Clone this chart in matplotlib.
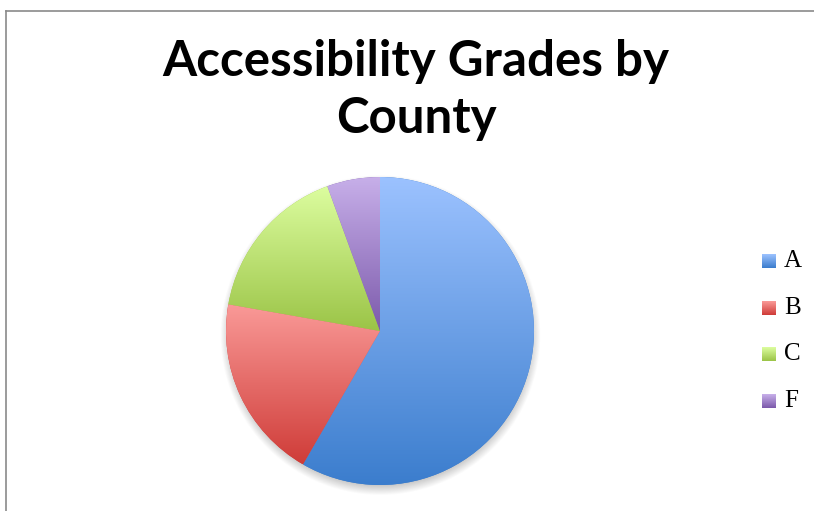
import numpy as np
import matplotlib
matplotlib.use("Agg")
import matplotlib.pyplot as plt
from matplotlib.lines import Line2D

# data
grades = ["A", "B", "C", "F"]
counts = [21, 7, 6, 2]
top_colors = ["#9cc2ff", "#fa9a98", "#dcfd9f", "#c7afe9"]
bottom_colors = ["#3b7dcd", "#cf3c38", "#9bc447", "#7c5aab"]

W, H = 814, 511
fig = plt.figure(figsize=(W / 100, H / 100), dpi=100)


def hex2rgb(h):
    return np.array(matplotlib.colors.to_rgb(h))


def vgrad(c_top, c_bot, n=256):
    t = np.linspace(0, 1, n)[:, None, None]
    return (1 - t) * hex2rgb(c_top) + t * hex2rgb(c_bot)


# pie axes: center (380, 331) px, radius 154 px
cx, cy, r = 380, 331, 154
pad = 1.15
ax = fig.add_axes([(cx - r * pad) / W, (H - cy - r * pad) / H,
                   2 * r * pad / W, 2 * r * pad / H])
ax.set_xlim(-pad, pad)
ax.set_ylim(-pad, pad)
ax.axis("off")

# soft shadow under the pie
g = np.linspace(-pad, pad, 400)
X, Y = np.meshgrid(g, g)
d = np.hypot(X, Y + 0.03)
alpha = np.clip((1.04 - d) / 0.07, 0, 1) * 0.35
shadow = np.zeros((400, 400, 4))
shadow[..., :3] = 0.35
shadow[..., 3] = alpha
ax.imshow(shadow, extent=(-pad, pad, -pad, pad), origin="lower", zorder=0)

wedges, _ = ax.pie(counts, startangle=90, counterclock=False, radius=1.0,
                   wedgeprops=dict(linewidth=0))
ax.set_xlim(-pad, pad)
ax.set_ylim(-pad, pad)

for w, ct, cb in zip(wedges, top_colors, bottom_colors):
    verts = w.get_path().vertices
    x0, y0 = verts.min(axis=0)
    x1, y1 = verts.max(axis=0)
    w.set_facecolor(cb)
    w.set_zorder(1)
    im = ax.imshow(vgrad(ct, cb), extent=(x0, x1, y0, y1), origin="upper",
                   aspect="auto", zorder=2, interpolation="bilinear")
    im.set_clip_path(w)

# title
fig.text(416 / W, 1 - 90 / H, "Accessibility Grades by\nCounty",
         ha="center", va="center", fontsize=35.5, fontweight="bold",
         family="Lato", linespacing=1.3)

# legend
leg_y = [261, 308, 354, 401]
for lab, yy, ct, cb in zip(grades, leg_y, top_colors, bottom_colors):
    lax = fig.add_axes([762 / W, (H - yy - 7) / H, 14 / W, 14 / H])
    lax.imshow(vgrad(ct, cb, 32), aspect="auto")
    lax.axis("off")
    fig.text(784 / W, 1 - yy / H, lab, ha="left", va="center",
             fontsize=18, family="Liberation Serif")

# partial chart frame
fig.add_artist(Line2D([6 / W, 1], [1 - 11 / H, 1 - 11 / H],
                      transform=fig.transFigure, color="#8a8a8a", lw=1.2))
fig.add_artist(Line2D([6 / W, 6 / W], [0, 1 - 11 / H],
                      transform=fig.transFigure, color="#8a8a8a", lw=1.2))

fig.savefig("out.png", dpi=100)
